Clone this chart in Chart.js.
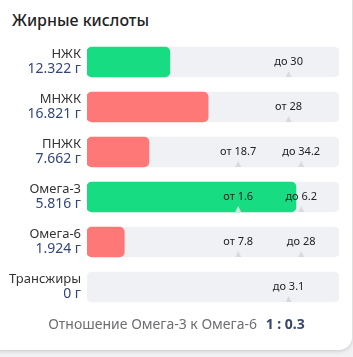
<!DOCTYPE html>
<html>
<head>
<meta charset="utf-8">
<script src="https://cdn.jsdelivr.net/npm/chart.js@4"></script>
<style>
    html, body { margin: 0; padding: 0; }
    body {
        width: 353px; height: 357px; overflow: hidden;
        background: #f1f1f3;
        font-family: "Noto Sans", sans-serif;
        position: relative;
    }
    .card {
        position: absolute; left: -12px; top: -12px;
        width: 364px; height: 362px;
        background: #fff; border-radius: 13px;
        box-shadow: 0 1px 4px rgba(0,0,0,0.18);
    }
    .title {
        position: absolute; left: 12px; top: 9px;
        font-size: 16px; font-weight: 500; color: #222;
    }
    .chart-box { position: absolute; left: 0; top: 0; width: 353px; height: 357px; }
    .ratio {
        position: absolute; left: 0; width: 353px; top: 314px;
        text-align: center; font-size: 14px; color: #6e6e73;
    }
    .ratio b { color: #39466a; font-size: 14px; margin-left: 5px; }
</style>
</head>
<body>
<div class="card"></div>
<div class="title">Жирные кислоты</div>
<div class="chart-box"><canvas id="fatChart"></canvas></div>
<div class="ratio">Отношение Омега-3 к Омега-6 <b>1 : 0.3</b></div>

<script>
const categories = ['НЖК', 'МНЖК', 'ПНЖК', 'Омега-3', 'Омега-6', 'Трансжиры'];
const amounts = [12.322, 16.821, 7.662, 5.816, 1.924, 0];
const normMin = [null, 28, 18.7, 1.6, 7.8, null];
const normMax = [30, null, 34.2, 6.2, 28, 3.1];

// where a norm mark sits on the track (0..1)
function markPos(i, which) {
    if (normMin[i] != null && normMax[i] != null) return which === 'min' ? 0.6 : 0.85;
    return 0.8;
}

function toTrack(i, v) {
    if (!v) return null;
    const lo = normMin[i], hi = normMax[i];
    if (lo != null && hi != null) {
        if (v <= lo) return v / lo * 0.6;
        return Math.min(1, 0.6 + (v - lo) / (hi - lo) * 0.25);
    }
    const n = lo != null ? lo : hi;
    return Math.min(1, v / n * 0.8);
}

function inNorm(i) {
    const v = amounts[i];
    if (normMin[i] != null && v < normMin[i]) return false;
    if (normMax[i] != null && v > normMax[i]) return false;
    return true;
}

const labelPlugin = {
    id: 'fatLabels',
    afterDatasetsDraw(chart) {
        const ctx = chart.ctx;
        const xs = chart.scales.x, ys = chart.scales.y;
        ctx.save();
        categories.forEach((name, i) => {
            const yc = ys.getPixelForValue(i);
            // left labels
            ctx.textAlign = 'right';
            ctx.textBaseline = 'middle';
            ctx.fillStyle = '#333';
            ctx.font = '13px "Noto Sans"';
            ctx.fillText(name, 81, yc - 8);
            ctx.fillStyle = '#34457a';
            ctx.font = '14px "Noto Sans"';
            ctx.fillText(amounts[i] + ' г', 81, yc + 7);

            // norm marks
            const marks = [];
            if (normMin[i] != null) marks.push(['от ' + normMin[i], markPos(i, 'min')]);
            if (normMax[i] != null) marks.push(['до ' + normMax[i], markPos(i, 'max')]);
            marks.forEach(([txt, p]) => {
                const x = xs.getPixelForValue(p);
                ctx.fillStyle = '#d8dade';
                ctx.beginPath();
                ctx.moveTo(x - 3, yc + 15);
                ctx.lineTo(x + 3, yc + 15);
                ctx.lineTo(x, yc + 9);
                ctx.closePath();
                ctx.fill();
                ctx.fillStyle = '#222';
                ctx.font = '11px "Noto Sans"';
                ctx.textAlign = 'center';
                ctx.fillText(txt, x, yc);
            });
        });
        ctx.restore();
    }
};

new Chart(document.getElementById('fatChart'), {
    type: 'bar',
    data: {
        labels: categories,
        datasets: [
            {
                data: amounts.map((v, i) => toTrack(i, v)),
                backgroundColor: amounts.map((v, i) => inNorm(i) ? '#18dc82' : '#ff7878'),
                borderRadius: 5,
                borderSkipped: false,
                grouped: false,
                barThickness: 30,
                order: 1
            },
            {
                data: categories.map(() => 1),
                backgroundColor: '#f0f1f4',
                borderRadius: 5,
                borderSkipped: false,
                grouped: false,
                barThickness: 30,
                order: 2
            }
        ]
    },
    options: {
        indexAxis: 'y',
        responsive: true,
        maintainAspectRatio: false,
        animation: false,
        layout: { padding: { left: 87, right: 14, top: 39.5, bottom: 47.5 } },
        scales: {
            x: { display: false, min: 0, max: 1 },
            y: { display: false }
        },
        plugins: { legend: { display: false }, tooltip: { enabled: false } }
    },
    plugins: [labelPlugin]
});
</script>
</body>
</html>
